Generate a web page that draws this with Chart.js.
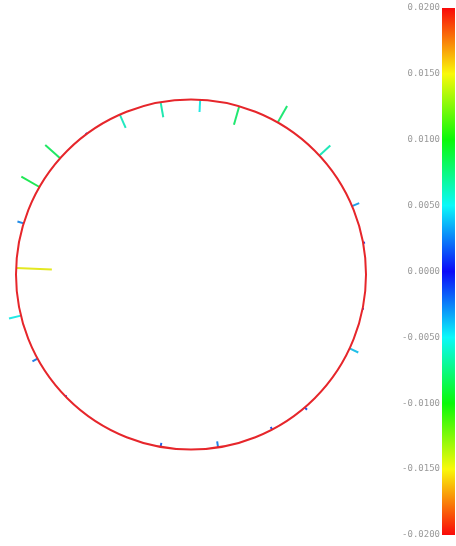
<!DOCTYPE html>
<html>
<head>
<meta charset="utf-8">
<script src="https://cdn.jsdelivr.net/npm/chart.js@4.4.1/dist/chart.umd.min.js"></script>
<style>
  html, body { margin: 0; padding: 0; background: #fff; }
  #wrap { position: relative; width: 456px; height: 546px; }
  #main { position: absolute; left: 0; top: 0; width: 380px; height: 546px; }
  #bar { position: absolute; left: 380px; top: 0; width: 76px; height: 546px; }
</style>
</head>
<body>
<div id="wrap">
  <div id="main"><canvas id="chart-ring"></canvas></div>
  <div id="bar"><canvas id="chart-scale"></canvas></div>
</div>
<script>
// positions round the ring, degrees counter-clockwise from east
const angles = [10.4, 23, 42.8, 60.3, 74, 87, 100, 114, 126.6, 138.4, 150,
  163, 177.9, 193.6, 208.7, 224, 260, 278.9, 297.6, 310.6, 335, 348.7];
// deviation at each position (outward positive)
const values = [0.0008, 0.0032, 0.0062, 0.0079, -0.0080, -0.0051, -0.0064,
  -0.0060, 0.0006, 0.0083, 0.0087, 0.0027, -0.0149, 0.0051, 0.0024, -0.0005,
  -0.0017, -0.0025, -0.0012, 0.0013, 0.0040, 0.0005];
// colour bar ticks
const barTicks = [-0.02, -0.015, -0.01, -0.005, 0, 0.005, 0.01, 0.015, 0.02];
const vMax = 0.02;

// jet-like map on |v|
const cmapPos = [0, 0.25, 0.5, 0.75, 1];
const cmapRGB = [[0, 0, 255], [0, 255, 255], [0, 255, 0], [255, 255, 0], [255, 0, 0]];

function rgbFor(v) {
  const t = Math.min(1, Math.abs(v) / vMax);
  let i = 0;
  while (i < cmapPos.length - 2 && t > cmapPos[i + 1]) i++;
  const f = (t - cmapPos[i]) / (cmapPos[i + 1] - cmapPos[i]);
  const a = cmapRGB[i], b = cmapRGB[i + 1];
  return a.map((x, k) => x + (b[k] - x) * f);
}

function colorFor(v, fade) {
  const c = rgbFor(v).map(x => Math.round(x * (1 - fade) + 150 * fade));
  return `rgb(${c[0]},${c[1]},${c[2]})`;
}

// ring radius 175px, ticks 2400px per unit
const lenScale = 2400 / 175;

const tickSets = angles.map((deg, i) => {
  const a = deg * Math.PI / 180;
  const r2 = 1 + values[i] * lenScale;
  return {
    data: [
      { x: Math.cos(a), y: Math.sin(a) },
      { x: r2 * Math.cos(a), y: r2 * Math.sin(a) }
    ],
    showLine: true,
    borderColor: colorFor(values[i], 0.22),
    borderWidth: 2,
    pointRadius: 0,
    borderCapStyle: 'butt'
  };
});

const ringPlugin = {
  id: 'ring',
  afterDatasetsDraw(chart) {
    const { ctx, scales: { x, y } } = chart;
    const cx = x.getPixelForValue(0);
    const cy = y.getPixelForValue(0);
    const rx = x.getPixelForValue(1) - cx;
    const ry = cy - y.getPixelForValue(1);
    ctx.save();
    ctx.strokeStyle = '#e6262b';
    ctx.lineWidth = 2;
    ctx.beginPath();
    ctx.ellipse(cx, cy, rx, ry, 0, 0, Math.PI * 2);
    ctx.stroke();
    ctx.restore();
  }
};

new Chart(document.getElementById('chart-ring'), {
  type: 'scatter',
  data: { datasets: tickSets },
  plugins: [ringPlugin],
  options: {
    responsive: true,
    maintainAspectRatio: false,
    animation: false,
    plugins: { legend: { display: false }, tooltip: { enabled: false } },
    layout: { padding: 0 },
    scales: {
      x: { display: false, min: -191 / 175, max: 189 / 175 },
      y: { display: false, min: -271.5 / 175, max: 274.5 / 175 }
    }
  }
});

new Chart(document.getElementById('chart-scale'), {
  type: 'bar',
  data: {
    labels: [''],
    datasets: [{
      data: [[-vMax, vMax]],
      borderWidth: 0,
      barPercentage: 1,
      categoryPercentage: 1,
      backgroundColor(c) {
        const chart = c.chart;
        if (!chart.chartArea) return '#fff';
        const ys = chart.scales.y;
        const y0 = ys.getPixelForValue(-vMax);
        const y1 = ys.getPixelForValue(vMax);
        const g = chart.ctx.createLinearGradient(0, y0, 0, y1);
        barTicks.forEach(v => g.addColorStop((v + vMax) / (2 * vMax), colorFor(v, 0.06)));
        return g;
      }
    }]
  },
  options: {
    responsive: true,
    maintainAspectRatio: false,
    animation: false,
    plugins: { legend: { display: false }, tooltip: { enabled: false } },
    layout: { padding: { top: 8, bottom: 11, right: 1, left: 0 } },
    scales: {
      x: { display: false },
      y: {
        min: -vMax,
        max: vMax,
        afterBuildTicks(scale) { scale.ticks = barTicks.map(v => ({ value: v })); },
        afterFit(scale) { scale.width = 62; },
        grid: { display: false, drawTicks: false },
        border: { display: false },
        ticks: {
          padding: 2,
          color: '#9a9a9a',
          font: { family: 'DejaVu Sans Mono', size: 9 },
          callback: v => v.toFixed(4)
        }
      }
    }
  }
});
</script>
</body>
</html>
